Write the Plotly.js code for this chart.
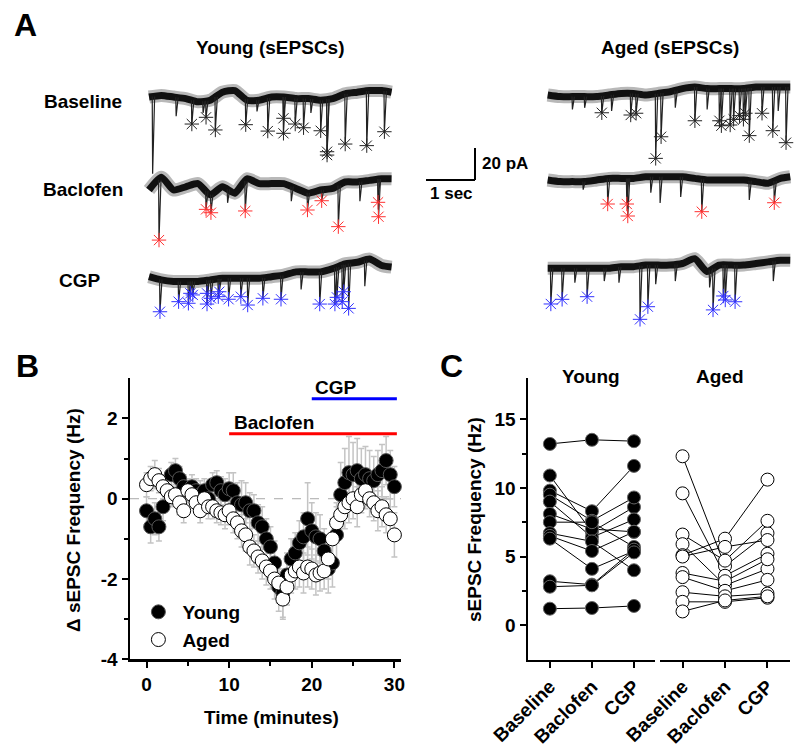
<!DOCTYPE html>
<html>
<head>
<meta charset="utf-8">
<script src="https://cdn.plot.ly/plotly-3.0.1.min.js"></script>
<style>html,body{margin:0;padding:0;background:#fff}#chart{width:800px;height:752px}</style>
</head>
<body>
<div id="chart"></div>
<script>
// ================= DATA =================
// ---- Panel A: example sEPSC recordings (time in s, current in pA relative to holding) ----
const driftT = [0,0.25,0.5,0.75,1,1.25,1.5,1.75,2,2.25,2.5,2.75,3,3.25,3.5,3.75,4,4.25,4.5,4.75,4.95];

const youngBaseDrift = [0,1,0,-1,-3,-2,3,4,-2,-2,0,0,-1,-1,-2,-1,2,3,4,4,3];
const youngBaseEvT = [0.87,1.16,1.35,1.97,2.42,2.74,2.74,2.98,3.15,3.5,3.63,3.63,4.0,4.44,4.8];
const youngBaseEvA = [-16.9,-12.7,-20.6,-17.3,-21.3,-13.3,-22.7,-16.9,-19.2,-21.1,-34.2,-36.3,-29.4,-30.4,-21.7];
const youngBaseDipT = [0.07,0.55,1.1,2.2,3.3];
const youngBaseDipA = [-48,-12,-10,-9,-10];

const youngBacDrift = [0,8,0,2,4,-3,2,-2,7,4,4,4,1,-2,0,1,5,5,6,7,7];
const youngBacEvT = [0.2,1.16,1.26,1.96,3.23,3.52,3.86,4.67,4.68];
const youngBacEvA = [-31.3,-12.1,-14.2,-13.1,-12.5,-6.7,-22.9,-7.7,-16.7];
const youngBacDipT = [1.6,2.9,4.3];
const youngBacDipA = [-8,-7,-7];

const youngCgpDrift = [0,-2,-3,-3,-3,-2,-1,-1,-1,-1,0,1,3,3,3,5,8,9,11,7,6];
const youngCgpEvT = [0.22,0.6,0.8,0.84,0.89,1.18,1.18,1.26,1.43,1.41,1.62,1.87,2.01,2.32,2.69,3.48,3.79,3.83,3.94,3.97,4.07];
const youngCgpEvA = [-21.9,-15.6,-16.6,-10.4,-11.4,-10.4,-17.1,-13.5,-9.4,-12.5,-14.1,-12.5,-17.7,-13.5,-14.1,-17.1,-17.1,-12.9,-15.6,-9.4,-19.8];
const youngCgpDipT = [3.1,4.4];
const youngCgpDipA = [-8,-6];

const agedBaseDrift = [0,-1,-1,-1,-1,0,1,1,0,1,2,4,5,4,4,4,4,5,5,5,5];
const agedBaseEvT = [1.1,1.69,1.8,2.31,2.2,3.0,3.5,3.54,3.72,3.79,3.91,4.03,3.99,4.11,4.37,4.59,4.86];
const agedBaseEvA = [-11.1,-12.5,-11.4,-26.1,-39.6,-16.1,-16.1,-19.2,-18.75,-15.2,-12.9,-11.4,-15.2,-25.4,-11.4,-22.3,-29.8];
const agedBaseDipT = [0.5,0.75,1.3,2.6,3.25,4.7];
const agedBaseDipA = [-9,-8,-10,-8,-9,-10];

const agedBacDrift = [0,-1,-1,-1,0,1,1,1,2,2,2,2,1,0,0,0,0,-1,-2,1,2];
const agedBacEvT = [1.22,1.61,1.63,3.14,4.62];
const agedBacEvA = [-15,-15,-22.5,-19.8,-14.2];
const agedBacDipT = [0.72,2.1,2.29,2.71,4.11];
const agedBacDipA = [-6,-8,-14.4,-10.6,-12.5];

const agedCgpDrift = [0,0,0,0,0,0,1,1,2,2,2,3,6,-2,2,2,2,3,4,5,5];
const agedCgpEvT = [0.06,0.29,0.8,1.88,2.04,3.37,3.58,3.62,3.82];
const agedCgpEvA = [-22.3,-19.4,-17.75,-31.9,-24,-26,-17.3,-19.8,-20.9];
const agedCgpDipT = [0.55,1.15,1.45,2.2,2.6,3.3,4.6];
const agedCgpDipA = [-9,-8,-9,-10,-8,-12,-8];

const scaleBarSec = 1;
const scaleBarPA = 20;

// ---- Panel B: change in sEPSC frequency over time ----
const timeMin = [0,0.5,1,1.5,2,2.5,3,3.5,4,4.5,
  5,5.5,6,6.5,7,7.5,8,8.5,9,9.5,
  10,10.5,11,11.5,12,12.5,13,13.5,14,14.5,
  15,15.5,16,16.5,17,17.5,18,18.5,19,19.5,
  20,20.5,21,21.5,22,22.5,23,23.5,24,24.5,
  25,25.5,26,26.5,27,27.5,28,28.5,29,29.5,
  30];
const youngDelta = [-0.3,-0.7,-0.5,-0.7,-0.2,0.2,0.6,0.7,0.5,0.3,
  0.2,0.3,0.2,0.1,0.2,0.0,0.35,0.4,0.2,0.1,
  0.25,0.2,-0.1,-0.15,-0.1,-0.3,-0.3,-0.6,-0.7,-1.0,
  -1.2,-1.6,-2.2,-2.35,-1.9,-1.5,-1.35,-1.1,-0.95,-0.5,
  -0.8,-0.95,-1.0,-1.3,-1.75,-1.6,-0.9,0.1,0.4,0.65,
  0.6,0.7,0.5,0.6,0.5,0.45,0.6,0.7,0.95,0.6,
  0.3];
const youngErr = [0.35,0.4,0.4,0.35,0.35,0.3,0.3,0.3,0.3,0.3,
  0.3,0.3,0.3,0.35,0.3,0.35,0.3,0.3,0.35,0.4,
  0.4,0.45,0.5,0.6,0.5,0.45,0.4,0.45,0.5,0.5,
  0.5,0.55,0.6,0.6,0.55,0.5,0.5,0.55,0.6,0.9,
  0.7,0.6,0.6,0.55,0.6,0.6,0.7,0.8,0.85,0.9,
  0.8,0.8,0.75,0.7,0.7,0.6,0.6,0.65,0.6,0.6,
  0.5];
const agedDelta = [0.35,0.5,0.6,0.45,0.3,0.2,0.05,0.1,-0.1,-0.3,
  0.2,0.1,-0.1,-0.3,0.0,-0.2,-0.2,-0.3,-0.35,-0.4,
  -0.3,-0.5,-0.6,-0.8,-0.9,-1.2,-1.3,-1.45,-1.55,-1.7,
  -1.8,-2.0,-2.1,-2.5,-2.2,-1.9,-1.8,-1.7,-1.85,-1.7,
  -1.75,-1.9,-1.85,-1.8,-1.5,-1.0,-0.6,-0.4,-0.2,-0.1,
  0.0,-0.2,0.1,0.2,0.0,-0.1,-0.3,-0.2,-0.4,-0.5,
  -0.9];
const agedErr = [0.3,0.3,0.35,0.3,0.3,0.3,0.25,0.25,0.3,0.3,
  0.25,0.25,0.25,0.3,0.25,0.3,0.3,0.3,0.3,0.35,
  0.35,0.35,0.4,0.4,0.4,0.45,0.4,0.4,0.45,0.45,
  0.45,0.5,0.5,0.5,0.45,0.45,0.45,0.5,0.5,0.5,
  0.5,0.5,0.45,0.45,0.5,0.5,0.5,0.55,0.55,0.5,
  0.5,0.5,0.45,0.45,0.45,0.45,0.5,0.5,0.45,0.5,
  0.55];
const drugNames = ['Baclofen','CGP'];
const drugStart = [10, 20];
const drugEnd = [30.3, 30.3];

// ---- Panel C: sEPSC frequency per cell (Hz) ----
const conditions = ['Baseline','Baclofen','CGP'];
const youngBaseline = [13.2,10.9,9.8,9.5,9.0,8.1,7.5,6.7,6.5,6.3,3.2,2.8,1.2];
const youngBaclofen = [13.5,6.8,8.3,7.6,6.4,7.0,7.5,6.1,5.4,4.1,2.95,2.9,1.25];
const youngCGP      = [13.4,8.6,11.6,9.3,7.7,6.8,5.7,4.0,6.8,5.4,5.5,5.3,1.4];
const agedBaseline  = [12.3,9.6,6.6,5.9,5.1,5.0,3.8,3.5,2.4,1.7,1.0];
const agedBaclofen  = [4.3,3.6,4.7,2.9,6.3,5.7,3.2,2.5,2.1,1.7,1.8];
const agedCGP       = [6.7,5.2,7.6,4.1,10.6,6.2,4.8,3.3,2.3,2.0,2.1];

// ================= DRAWING =================
const FONT = 'Liberation Sans, Arial, Helvetica, sans-serif';
const W = 800, H = 752;
const PXS = 49;   // panel A: pixels per second
const PXPA = 1.6; // panel A: pixels per pA
const fx = p => p / W;
const fy = p => 1 - p / H;

// panel A placement (layout positions)
const colX0 = {young: 149 / PXS, aged: 547.7 / PXS};
const rowY0 = {youngBase: -97 / PXPA, youngBac: -190 / PXPA, youngCgp: -276.7 / PXPA,
               agedBase: -95 / PXPA, agedBac: -180 / PXPA, agedCgp: -268.3 / PXPA};
const RED = '#ff3030', BLUE = '#3030ff', DARK = '#222';

const recs = [
  {x0: colX0.young, y0: rowY0.youngBase, d: youngBaseDrift, eT: youngBaseEvT, eA: youngBaseEvA, pT: youngBaseDipT, pA: youngBaseDipA, c: DARK},
  {x0: colX0.young, y0: rowY0.youngBac, d: youngBacDrift, eT: youngBacEvT, eA: youngBacEvA, pT: youngBacDipT, pA: youngBacDipA, c: RED},
  {x0: colX0.young, y0: rowY0.youngCgp, d: youngCgpDrift, eT: youngCgpEvT, eA: youngCgpEvA, pT: youngCgpDipT, pA: youngCgpDipA, c: BLUE},
  {x0: colX0.aged, y0: rowY0.agedBase, d: agedBaseDrift, eT: agedBaseEvT, eA: agedBaseEvA, pT: agedBaseDipT, pA: agedBaseDipA, c: DARK},
  {x0: colX0.aged, y0: rowY0.agedBac, d: agedBacDrift, eT: agedBacEvT, eA: agedBacEvA, pT: agedBacDipT, pA: agedBacDipA, c: RED},
  {x0: colX0.aged, y0: rowY0.agedCgp, d: agedCgpDrift, eT: agedCgpEvT, eA: agedCgpEvA, pT: agedCgpDipT, pA: agedCgpDipA, c: BLUE}
];

function driftAt(d, t) {
  for (let i = 0; i < driftT.length - 1; i++) {
    if (t >= driftT[i] && t <= driftT[i + 1]) {
      const f = (t - driftT[i]) / (driftT[i + 1] - driftT[i]);
      return d[i] + f * (d[i + 1] - d[i]);
    }
  }
  return d[d.length - 1];
}

const data = [];
recs.forEach(r => {
  const tx = driftT.map(t => r.x0 + t), ty = r.d.map(v => r.y0 + v);
  // fuzzy halo of the noisy band
  data.push({type: 'scatter', mode: 'lines', xaxis: 'x4', yaxis: 'y4', hoverinfo: 'skip', showlegend: false,
    x: tx, y: ty, line: {color: 'rgba(0,0,0,0.28)', width: 13, shape: 'spline', smoothing: 0.6}});
  // dense core of the band
  data.push({type: 'scatter', mode: 'lines', xaxis: 'x4', yaxis: 'y4', hoverinfo: 'skip', showlegend: false,
    x: tx, y: ty, line: {color: '#111', width: 7, shape: 'spline', smoothing: 0.6}});
  const dx = [], dy = [];
  const allT = r.eT.concat(r.pT), allA = r.eA.concat(r.pA);
  allT.forEach((t, i) => {
    const b = driftAt(r.d, t);
    dx.push(r.x0 + t - 0.004, r.x0 + t + 0.004, r.x0 + t + 0.045, null);
    dy.push(r.y0 + b, r.y0 + allA[i], r.y0 + b, null);
  });
  data.push({type: 'scatter', mode: 'lines', xaxis: 'x4', yaxis: 'y4', hoverinfo: 'skip', showlegend: false,
    x: dx, y: dy, line: {color: '#222', width: 1.2}});
  data.push({type: 'scatter', mode: 'markers', xaxis: 'x4', yaxis: 'y4', hoverinfo: 'skip', showlegend: false,
    x: r.eT.map(t => r.x0 + t + 0.004), y: r.eA.map(a => r.y0 + a),
    marker: {symbol: 'asterisk-open', size: 12, color: r.c, line: {color: r.c, width: 1}}});
});

// Panel B
data.push({type: 'scatter', mode: 'markers', x: timeMin, y: youngDelta, xaxis: 'x', yaxis: 'y', showlegend: false, hoverinfo: 'skip',
  marker: {size: 14, color: 'rgba(0,0,0,0)'}, error_y: {type: 'data', array: youngErr, color: '#c4c4c4', thickness: 1.5, width: 3}});
data.push({type: 'scatter', mode: 'markers', x: timeMin, y: agedDelta, xaxis: 'x', yaxis: 'y', showlegend: false, hoverinfo: 'skip',
  marker: {size: 14, color: 'rgba(0,0,0,0)'}, error_y: {type: 'data', array: agedErr, color: '#c4c4c4', thickness: 1.5, width: 3}});
data.push({type: 'scatter', mode: 'markers', name: 'Young', x: timeMin, y: youngDelta, xaxis: 'x', yaxis: 'y', cliponaxis: false,
  marker: {size: 14, color: 'black', line: {color: '#555', width: 1}}});
data.push({type: 'scatter', mode: 'markers', name: 'Aged', x: timeMin, y: agedDelta, xaxis: 'x', yaxis: 'y', cliponaxis: false,
  marker: {size: 14, color: 'white', line: {color: 'black', width: 1}}});

// Panel C
function pairedLines(b, ba, c) {
  const x = [], y = [];
  b.forEach((v, i) => { x.push(0, 1, 2, null); y.push(v, ba[i], c[i], null); });
  return {x, y};
}
function pairedPts(b, ba, c) {
  const x = [], y = [];
  [b, ba, c].forEach((arr, k) => arr.forEach(v => { x.push(k); y.push(v); }));
  return {x, y};
}
const yl = pairedLines(youngBaseline, youngBaclofen, youngCGP);
const yp = pairedPts(youngBaseline, youngBaclofen, youngCGP);
const al = pairedLines(agedBaseline, agedBaclofen, agedCGP);
const ap = pairedPts(agedBaseline, agedBaclofen, agedCGP);
data.push({type: 'scatter', mode: 'lines', x: yl.x, y: yl.y, xaxis: 'x2', yaxis: 'y2', showlegend: false, hoverinfo: 'skip',
  line: {color: 'black', width: 1}});
data.push({type: 'scatter', mode: 'markers', x: yp.x, y: yp.y, xaxis: 'x2', yaxis: 'y2', showlegend: false, hoverinfo: 'skip', cliponaxis: false,
  marker: {size: 13, color: 'black', line: {color: '#666', width: 1}}});
data.push({type: 'scatter', mode: 'lines', x: al.x, y: al.y, xaxis: 'x3', yaxis: 'y3', showlegend: false, hoverinfo: 'skip',
  line: {color: 'black', width: 1}});
data.push({type: 'scatter', mode: 'markers', x: ap.x, y: ap.y, xaxis: 'x3', yaxis: 'y3', showlegend: false, hoverinfo: 'skip', cliponaxis: false,
  marker: {size: 13, color: 'white', line: {color: 'black', width: 1}}});

// ================= LAYOUT =================
const axBase = {showline: true, linewidth: 2.5, linecolor: 'black', ticks: 'outside', ticklen: 6, tickwidth: 2,
  tickcolor: 'black', showgrid: false, zeroline: false, tickfont: {size: 19, family: FONT, weight: 'bold'}, fixedrange: true};
const minorT = vals => ({tickvals: vals, ticks: 'outside', ticklen: 4, tickwidth: 2, tickcolor: 'black', showgrid: false});
const hidden = {visible: false, showgrid: false, zeroline: false, fixedrange: true};

const drugColors = ['#ff0000', '#0000ff'];
const drugY = [1.62, 2.49];
const drugLabelX = [15.4, 22.9];
const drugLabelY = [1.91, 2.77];

const shapes = [];
drugNames.forEach((n, i) => shapes.push({type: 'line', xref: 'x', yref: 'y', x0: drugStart[i], x1: drugEnd[i], y0: drugY[i], y1: drugY[i],
  line: {color: drugColors[i], width: 3}}));
shapes.push({type: 'line', xref: 'x', yref: 'y', x0: -2, x1: 30.8, y0: 0, y1: 0, line: {color: '#a8a8a8', width: 1, dash: 'dash'}, layer: 'below'});
// scale bar
const sbX = 475 / PXS, sbY = -180 / PXPA;
shapes.push({type: 'line', xref: 'x4', yref: 'y4', x0: sbX, x1: sbX, y0: sbY, y1: sbY + scaleBarPA, line: {color: 'black', width: 2}});
shapes.push({type: 'line', xref: 'x4', yref: 'y4', x0: sbX - scaleBarSec, x1: sbX, y0: sbY, y1: sbY, line: {color: 'black', width: 2}});

const ann = (text, x, y, opts = {}) => Object.assign({text, x: fx(x), y: fy(y), xref: 'paper', yref: 'paper', showarrow: false,
  xanchor: 'center', yanchor: 'middle', font: {size: 19, family: FONT, color: 'black', weight: 'bold'}}, opts);

const annotations = [
  ann('A', 25, 25, {font: {size: 32, family: FONT, color: 'black', weight: 'bold'}}),
  ann('B', 27, 366, {font: {size: 32, family: FONT, color: 'black', weight: 'bold'}}),
  ann('C', 452, 366, {font: {size: 32, family: FONT, color: 'black', weight: 'bold'}}),
  ann('Young (sEPSCs)', 270, 48),
  ann('Aged (sEPSCs)', 670, 48),
  ann('Baseline', 83, 102),
  ann('Baclofen', 83, 190),
  ann('CGP', 80, 280),
  ann(scaleBarPA + ' pA', 480, 163, {xanchor: 'left', font: {size: 17, family: FONT, color: 'black', weight: 'bold'}}),
  ann(scaleBarSec + ' sec', 451, 193, {font: {size: 17, family: FONT, color: 'black', weight: 'bold'}}),
  ann('Δ sEPSC Frequency (Hz)', 73, 520, {textangle: -90}),
  ann('Time (minutes)', 271, 717),
  ann('sEPSC Frequency (Hz)', 474, 520, {textangle: -90}),
  ann('Young', 591, 376),
  ann('Aged', 720, 376)
];
drugNames.forEach((n, i) => annotations.push({text: n, x: drugLabelX[i], y: drugLabelY[i], xref: 'x', yref: 'y', showarrow: false,
  xanchor: 'center', yanchor: 'middle', font: {size: 19, family: FONT, color: 'black', weight: 'bold'}}));

const layout = {
  width: W, height: H, margin: {l: 0, r: 0, t: 0, b: 0}, paper_bgcolor: 'white', plot_bgcolor: 'rgba(0,0,0,0)',
  font: {family: FONT, size: 19, color: 'black', weight: 'bold'}, hovermode: false,
  showlegend: true,
  legend: {x: 0.168, y: fy(593), xanchor: 'left', yanchor: 'top', bgcolor: 'rgba(0,0,0,0)', itemwidth: 38,
    font: {size: 19, family: FONT, weight: 'bold'}, tracegroupgap: 0},
  xaxis: Object.assign({}, axBase, {domain: [fx(130), fx(401)], range: [-2, 30.8], anchor: 'y',
    tickvals: [0, 10, 20, 30], ticktext: ['0', '10', '20', '30'], minor: minorT([5, 15, 25])}),
  yaxis: Object.assign({}, axBase, {domain: [fy(659.3), fy(378.3)], range: [-4, 3], anchor: 'x',
    tickvals: [-4, -2, 0, 2], ticktext: ['-4', '-2', '0', '2'], minor: minorT([-3, -1, 1])}),
  xaxis2: Object.assign({}, axBase, {domain: [fx(528), fx(655)], range: [-0.52, 2.5], anchor: 'y2',
    tickvals: [0, 1, 2], ticktext: conditions, tickangle: -45}),
  yaxis2: Object.assign({}, axBase, {domain: [fy(659.5), fy(378)], range: [-2.5, 18], anchor: 'x2',
    tickvals: [0, 5, 10, 15], ticktext: ['0', '5', '10', '15'], minor: minorT([2.5, 7.5, 12.5])}),
  xaxis3: Object.assign({}, axBase, {domain: [fx(660), fx(790)], range: [-0.53, 2.53], anchor: 'y3',
    tickvals: [0, 1, 2], ticktext: conditions, tickangle: -45}),
  yaxis3: Object.assign({}, hidden, {visible: true, showline: false, showticklabels: false, ticks: '',
    domain: [fy(659.5), fy(378)], range: [-2.5, 18], anchor: 'x3'}),
  xaxis4: Object.assign({}, hidden, {domain: [0, 1], range: [0, W / PXS], anchor: 'y4'}),
  yaxis4: Object.assign({}, hidden, {domain: [0, 1], range: [-H / PXPA, 0], anchor: 'x4'}),
  shapes, annotations
};

Plotly.newPlot('chart', data, layout, {displayModeBar: false, staticPlot: true});
</script>
</body>
</html>
